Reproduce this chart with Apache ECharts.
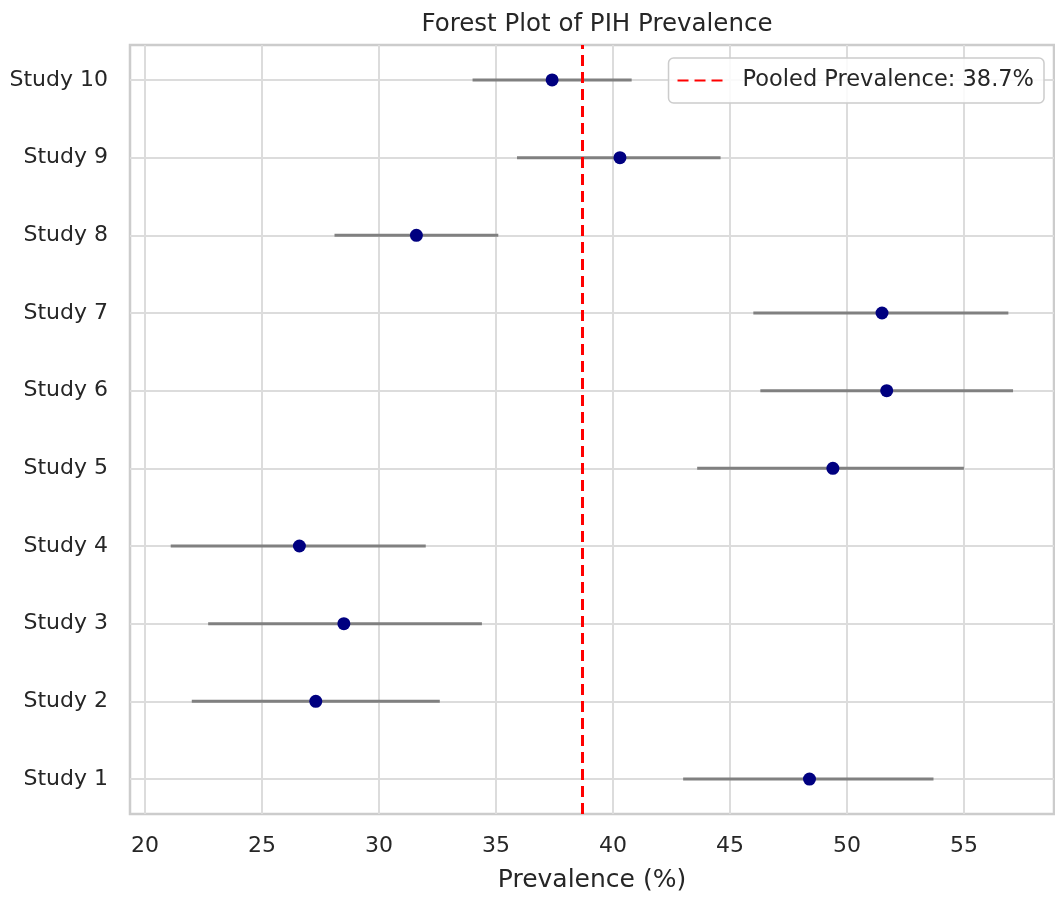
<!DOCTYPE html>
<html>
<head>
<meta charset="utf-8">
<title>Forest Plot of PIH Prevalence</title>
<script src="https://cdn.jsdelivr.net/npm/echarts@6/dist/echarts.min.js"></script>
<style>
html, body { margin: 0; padding: 0; background: #fff; }
#main { width: 1055px; height: 898px; }
</style>
</head>
<body>
<div id="main"></div>
<script>
// data
var studies = ['Study 1', 'Study 2', 'Study 3', 'Study 4', 'Study 5',
               'Study 6', 'Study 7', 'Study 8', 'Study 9', 'Study 10'];
var prevalence = [48.4, 27.3, 28.5, 26.6, 49.4, 51.7, 51.5, 31.6, 40.3, 37.4];
var ciLow  = [43.0, 22.0, 22.7, 21.1, 43.6, 46.3, 46.0, 28.1, 35.9, 34.0];
var ciHigh = [53.7, 32.6, 34.4, 32.0, 55.0, 57.1, 56.9, 35.1, 44.6, 40.8];
var pooled = 38.7;
var xTicks = [20, 25, 30, 35, 40, 45, 50, 55];

var font = 'DejaVu Sans';
var textColor = '#262626';
var yMin = -0.45;
var yMax = studies.length - 1 + 0.45;
var studyIdx = studies.map(function (s, i) { return i; });

var barData = [];
var pointData = [];
for (var i = 0; i < studies.length; i++) {
    barData.push([ciLow[i], ciHigh[i], i]);
    pointData.push([prevalence[i], i]);
}

var myChart = echarts.init(document.getElementById('main'));
myChart.setOption({
    animation: false,
    textStyle: { fontFamily: font },
    title: {
        text: 'Forest Plot of PIH Prevalence',
        left: 592,
        textAlign: 'center',
        top: 7,
        textStyle: { fontFamily: font, fontSize: 24.5, fontWeight: 'normal', color: textColor }
    },
    legend: {
        right: 11,
        top: 58,
        selectedMode: false,
        padding: [11, 10, 11, 8],
        borderColor: '#cccccc',
        borderWidth: 1.5,
        borderRadius: 5,
        backgroundColor: 'rgba(255,255,255,0.85)',
        itemWidth: 45,
        itemHeight: 14,
        textStyle: { fontFamily: font, fontSize: 22.5, color: textColor, padding: [0, 0, 0, 15] },
        data: ['Pooled Prevalence: ' + pooled + '%']
    },
    grid: {
        left: 130,
        right: 1,
        top: 45,
        bottom: 81,
        show: true,
        borderColor: '#cccccc',
        borderWidth: 2.5
    },
    xAxis: {
        type: 'value',
        min: 19.36,
        max: 58.85,
        name: 'Prevalence (%)',
        nameLocation: 'middle',
        nameGap: 54,
        nameTextStyle: { fontFamily: font, fontSize: 25, color: textColor },
        axisLine: { show: false },
        axisTick: { show: false, customValues: xTicks },
        axisLabel: { customValues: xTicks, fontSize: 22, color: textColor, margin: 21 },
        splitLine: { show: true, lineStyle: { color: '#dcdcdc', width: 2 } }
    },
    yAxis: {
        type: 'value',
        min: yMin,
        max: yMax,
        axisLine: { show: false },
        axisTick: { show: false, customValues: studyIdx },
        axisLabel: {
            customValues: studyIdx,
            fontSize: 22,
            color: textColor,
            margin: 22,
            formatter: function (v) { return studies[Math.round(v)]; }
        },
        splitLine: { show: true, lineStyle: { color: '#dcdcdc', width: 2 } }
    },
    series: [
        {
            name: 'CI',
            type: 'custom',
            z: 2,
            encode: { x: [0, 1], y: 2 },
            data: barData,
            renderItem: function (params, api) {
                var a = api.coord([api.value(0), api.value(2)]);
                var b = api.coord([api.value(1), api.value(2)]);
                return {
                    type: 'line',
                    shape: { x1: a[0], y1: a[1], x2: b[0], y2: b[1] },
                    style: { stroke: '#808080', lineWidth: 3 }
                };
            }
        },
        {
            name: 'Pooled Prevalence: ' + pooled + '%',
            type: 'line',
            z: 3,
            symbol: 'none',
            data: [[pooled, yMin], [pooled, yMax]],
            lineStyle: { color: '#ff0000', width: 3, type: [11, 6] },
            itemStyle: { color: 'rgba(0,0,0,0)', borderWidth: 0 }
        },
        {
            name: 'Prevalence',
            type: 'scatter',
            z: 4,
            symbolSize: 13,
            itemStyle: { color: '#000080', opacity: 1 },
            data: pointData
        }
    ]
});
</script>
</body>
</html>
